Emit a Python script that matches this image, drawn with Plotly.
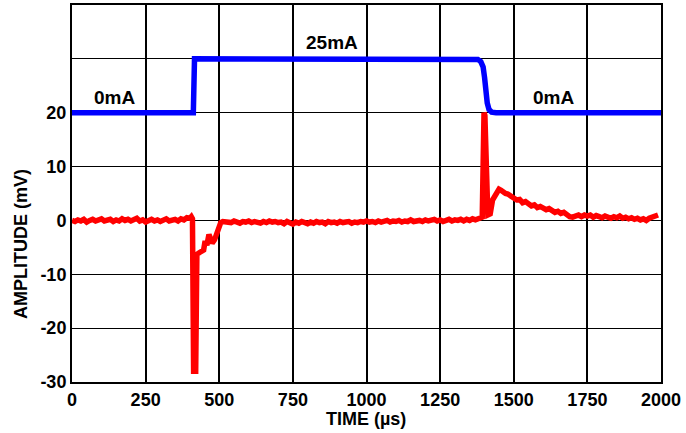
import plotly.graph_objects as go

# ---- data ----
blue_t = [0, 412, 416, 1365, 1378, 1388, 1396, 1401, 1405, 1410, 1416, 1425, 1440, 2000]
blue_v = [20, 20, 30, 30, 29.9, 29.5, 28.5, 26.5, 24, 21.8, 20.6, 20.1, 20, 20]

red_t = [0, 10, 20, 30, 40, 50, 60, 70, 80, 90, 100, 110, 120, 130, 140, 150, 160, 170, 180, 190,
         200, 210, 220, 230, 240, 250, 260, 270, 280, 290, 300, 310, 320, 330, 340, 350, 360, 370, 380, 390,
         400, 405, 409, 413, 420, 424, 432, 440, 447, 452, 458, 465, 470, 476, 484, 490, 497, 505, 512, 520,
         530, 540, 550, 560, 570, 580, 590, 600, 610, 620, 630, 640, 650, 660, 670, 680, 690, 700, 710, 720,
         730, 740, 750, 760, 770, 780, 790, 800, 810, 820, 830, 840, 850, 860, 870, 880, 890, 900, 910, 920,
         930, 940, 950, 960, 970, 980, 990, 1000, 1010, 1020, 1030, 1040, 1050, 1060, 1070, 1080, 1090, 1100,
         1110, 1120, 1130, 1140, 1150, 1160, 1170, 1180, 1190, 1200, 1210, 1220, 1230, 1240, 1250, 1260, 1270,
         1280, 1290, 1300, 1310, 1320, 1330, 1340, 1350, 1360, 1370, 1380, 1388, 1393, 1399, 1402, 1412, 1420,
         1428, 1435, 1442, 1450, 1457, 1465, 1472, 1480, 1490,
         1500, 1510, 1520, 1530, 1540, 1550, 1560, 1570, 1580, 1590, 1600, 1610, 1620, 1630, 1640, 1650, 1660,
         1670, 1680, 1690, 1700, 1710, 1720, 1730, 1740, 1750, 1760, 1770, 1780, 1790, 1800, 1810, 1820, 1830,
         1840, 1850, 1860, 1870, 1880, 1890, 1900, 1910, 1920, 1930, 1940, 1950, 1960, 1970, 1980, 1990]
red_v = [0.0, -0.2, 0.1, -0.1, 0.2, -0.3, 0.0, 0.2, -0.1, 0.1, 0.3, -0.1, 0.0, 0.2, -0.2, 0.1, -0.1, 0.3, 0.0, 0.2,
         -0.1, 0.2, 0.4, -0.1, 0.1, -0.3, 0.0, 0.2, -0.1, 0.1, -0.2, 0.1, 0.3, -0.1, 0.0, 0.2, -0.1, 0.3, 0.1, 0.5,
         0.4, 0.7, 0.3, -28.0, -28.0, -6.3, -6.0, -5.8, -5.5, -3.8, -4.6, -2.6, -3.5, -4.2, -3.6, -2.8, -1.2, -0.4, -0.2, -0.3,
         -0.2, -0.4, -0.1, -0.3, -0.5, -0.2, -0.3, -0.1, -0.4, -0.2, -0.3, -0.5, -0.2, -0.4, -0.1, -0.3, -0.2, -0.4, -0.3, -0.6,
         -0.2, -0.4, -0.7, -0.3, -0.5, -0.2, -0.4, -0.6, -0.3, -0.5, -0.2, -0.4, -0.3, -0.6, -0.2, -0.4, -0.3, -0.5, -0.2, -0.4,
         -0.3, -0.2, -0.5, -0.3, -0.4, -0.2, -0.3, -0.1, -0.3, -0.2, -0.4, -0.1, -0.3, -0.2, 0.0, -0.3, -0.1, -0.2,
         0.0, -0.3, -0.1, -0.2, 0.1, -0.2, -0.1, 0.0, -0.2, 0.1, -0.1, 0.0, 0.2, -0.1, 0.1, -0.2, 0.0,
         0.2, -0.1, 0.1, 0.0, 0.2, -0.1, 0.2, 0.0, 0.3, 0.1, 0.4, 0.5, 0.6, 20.0, 19.5, 1.0, 1.2,
         3.8, 4.6, 5.2, 5.8, 5.6, 5.2, 5.0, 4.9, 4.5,
         4.2, 3.8, 3.9, 3.3, 3.5, 3.0, 2.7, 2.9, 2.4, 2.6, 2.2, 2.0, 2.2, 1.7, 1.5, 1.7, 1.3,
         1.5, 1.0, 0.7, 0.6, 0.9, 1.0, 0.7, 1.0, 0.8, 1.0, 0.6, 0.9, 0.7, 0.5, 0.8, 0.6, 0.4,
         0.7, 0.5, 0.8, 0.4, 0.6, 0.3, 0.5, 0.2, 0.4, 0.1, 0.3, 0.0, 0.4, 0.6, 0.8, 1.0]

x_ticks = [0, 250, 500, 750, 1000, 1250, 1500, 1750, 2000]
y_ticks = [-30, -20, -10, 0, 10, 20, 30, 40]
y_tick_text = ["-30", "-20", "-10", "0", "10", "20", "", ""]

labels = ["0mA", "25mA", "0mA"]
label_t = [143, 883, 1636]
label_v = [22.8, 33.0, 22.8]

FONT = "Liberation Sans, Arial, sans-serif"

fig = go.Figure()
fig.add_trace(go.Scatter(x=blue_t, y=blue_v, mode="lines",
                         line=dict(color="#0000ff", width=5.5), showlegend=False))
fig.add_trace(go.Scatter(x=red_t, y=red_v, mode="lines",
                         line=dict(color="#ff0000", width=5.5), showlegend=False))

for txt, t, v in zip(labels, label_t, label_v):
    fig.add_annotation(x=t, y=v, text=txt, showarrow=False, xanchor="center", yanchor="middle",
                       font=dict(family=FONT, size=19, color="black", weight="bold"))

fig.add_annotation(xref="paper", yref="paper", x=-0.0866, y=0.366, text="AMPLITUDE (mV)",
                   textangle=-90, showarrow=False, xanchor="center", yanchor="middle",
                   font=dict(family=FONT, size=18, color="black", weight="bold"))
fig.add_annotation(xref="paper", yref="paper", x=0.499, y=-0.0977, text="TIME (µs)",
                   showarrow=False, xanchor="center", yanchor="middle",
                   font=dict(family=FONT, size=18, color="black", weight="bold"))

fig.update_layout(
    width=686, height=433,
    margin=dict(l=72, r=25, t=5, b=51),
    paper_bgcolor="white", plot_bgcolor="white",
    font=dict(family=FONT, size=18, color="black", weight="bold"),
)
fig.update_xaxes(range=[0, 2000], tickvals=x_ticks, ticktext=[str(v) for v in x_ticks],
                 automargin=False,
                 showgrid=True, gridcolor="black", gridwidth=2, zeroline=False,
                 showline=True, linecolor="black", linewidth=2, mirror=True,
                 ticks="",
                 tickfont=dict(family=FONT, size=18, color="black", weight="bold"))
fig.update_yaxes(range=[-30, 40], tickvals=y_ticks, ticktext=y_tick_text,
                 automargin=False,
                 showgrid=True, gridcolor="black", gridwidth=1.3, zeroline=False,
                 showline=True, linecolor="black", linewidth=2, mirror=True,
                 ticks="",
                 tickfont=dict(family=FONT, size=18, color="black", weight="bold"))

fig.write_html("out.html", config={"displayModeBar": False},
               post_script="document.body.style.margin='0px';")
